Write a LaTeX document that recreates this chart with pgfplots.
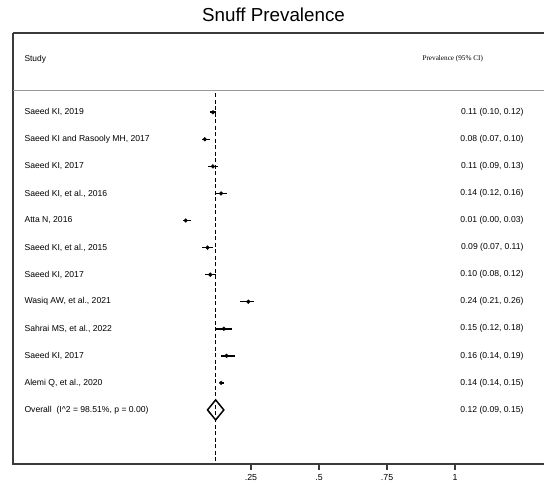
\documentclass[border=0pt]{standalone}
\usepackage{fontspec}
\setmainfont{Liberation Sans}
\newfontfamily\seriffont{Liberation Serif}
\usepackage{pgfplots}
\usepackage{pgfplotstable}
\pgfplotsset{compat=1.18}
\definecolor{frame}{HTML}{3A3A3A}
\pgfplotstableread{
y x em ep
-1 0.11 0.01 0.01
-2 0.08 0.01 0.02
-3 0.11 0.02 0.02
-4 0.14 0.02 0.02
-5 0.01 0.01 0.02
-6 0.09 0.02 0.02
-7 0.10 0.02 0.02
-8 0.24 0.03 0.02
-9 0.15 0.03 0.03
-10 0.16 0.02 0.03
-11 0.14 0.00 0.01
}\studies
\begin{document}
\begin{tikzpicture}
\begin{axis}[
  scale only axis, width=531pt, height=430.5pt,
  xmin=-0.625, xmax=1.327, ymin=-13.98, ymax=1.93,
  clip=false,
  axis line style={draw=none},
  xtick={0.25,0.5,0.75,1}, xticklabels={.25,.5,.75,1},
  xtick pos=lower, xtick align=outside, ytick=\empty,
  major tick length=6pt,
  tick style={line width=1.2pt, color=frame},
  tick label style={font=\fontsize{8.8}{10}\selectfont},
  /pgf/number format/assume math mode=true,
  xticklabel style={yshift=-1pt},
]
% frame
\draw[frame, line width=2pt] (rel axis cs:0,1) -- (rel axis cs:0,0) -- (rel axis cs:1,0);
\draw[frame, line width=1.6pt] (rel axis cs:0,1) -- (rel axis cs:1,1);
\draw[gray!80, line width=0.9pt] (axis cs:-0.625,-0.195) -- (axis cs:1.327,-0.195);
% reference line
\addplot[black, line width=1.1pt, dash pattern=on 4pt off 2.5pt] coordinates {(0.12,-0.3) (0.12,-13.98)};
% studies
\addplot[only marks, mark=*, mark size=1.9pt, black,
  error bars/.cd, x dir=both, x explicit, error mark=none,
  error bar style={line width=1.6pt, black}]
  table[x=x, y=y, x error minus=em, x error plus=ep] {\studies};
% overall diamond
\addplot[black, line width=1.5pt, fill=white] coordinates {(0.09,-12) (0.12,-11.63) (0.15,-12) (0.12,-12.37) (0.09,-12)} -- cycle;
\addplot[black, line width=1.1pt, dash pattern=on 4pt off 2.5pt] coordinates {(0.12,-11.8) (0.12,-12.2)};
% title
\node[font=\fontsize{18.8}{22}\selectfont] at (axis cs:0.3327,2.596) {Snuff Prevalence};
% headers
\node[anchor=west, font=\fontsize{8.4}{10}\selectfont] at (axis cs:-0.5956,0.97) {Study};
\node[anchor=west, font=\seriffont\fontsize{7.2}{9}\selectfont] at (axis cs:0.8676,0.97) {Prevalence (95\% CI)};
% study labels
\foreach \lab [count=\k] in {{Saeed KI, 2019},{Saeed KI and Rasooly MH, 2017},{Saeed KI, 2017},{Saeed KI, et al., 2016},{Atta N, 2016},{Saeed KI, et al., 2015},{Saeed KI, 2017},{Wasiq AW, et al., 2021},{Sahrai MS, et al., 2022},{Saeed KI, 2017},{Alemi Q, et al., 2020},{Overall\ \ (I\^{}2 = 98.51\%, p = 0.00)}} {
  \edef\tmp{\noexpand\node[anchor=west, font=\noexpand\fontsize{8.6}{10}\noexpand\selectfont] at (axis cs:-0.5956,-\k) {\unexpanded\expandafter{\lab}};}
  \tmp
}
\foreach \val [count=\k] in {{0.11 (0.10, 0.12)},{0.08 (0.07, 0.10)},{0.11 (0.09, 0.13)},{0.14 (0.12, 0.16)},{0.01 (0.00, 0.03)},{0.09 (0.07, 0.11)},{0.10 (0.08, 0.12)},{0.24 (0.21, 0.26)},{0.15 (0.12, 0.18)},{0.16 (0.14, 0.19)},{0.14 (0.14, 0.15)},{0.12 (0.09, 0.15)}} {
  \edef\tmp{\noexpand\node[anchor=east, font=\noexpand\fontsize{8.6}{10}\noexpand\selectfont] at (axis cs:1.2647,-\k) {\unexpanded\expandafter{\val}};}
  \tmp
}
\end{axis}
\pgfresetboundingbox
\path ([xshift=-13pt,yshift=-29.5pt]current axis.south west) rectangle ([yshift=33pt]current axis.north east);
\end{tikzpicture}
\end{document}
